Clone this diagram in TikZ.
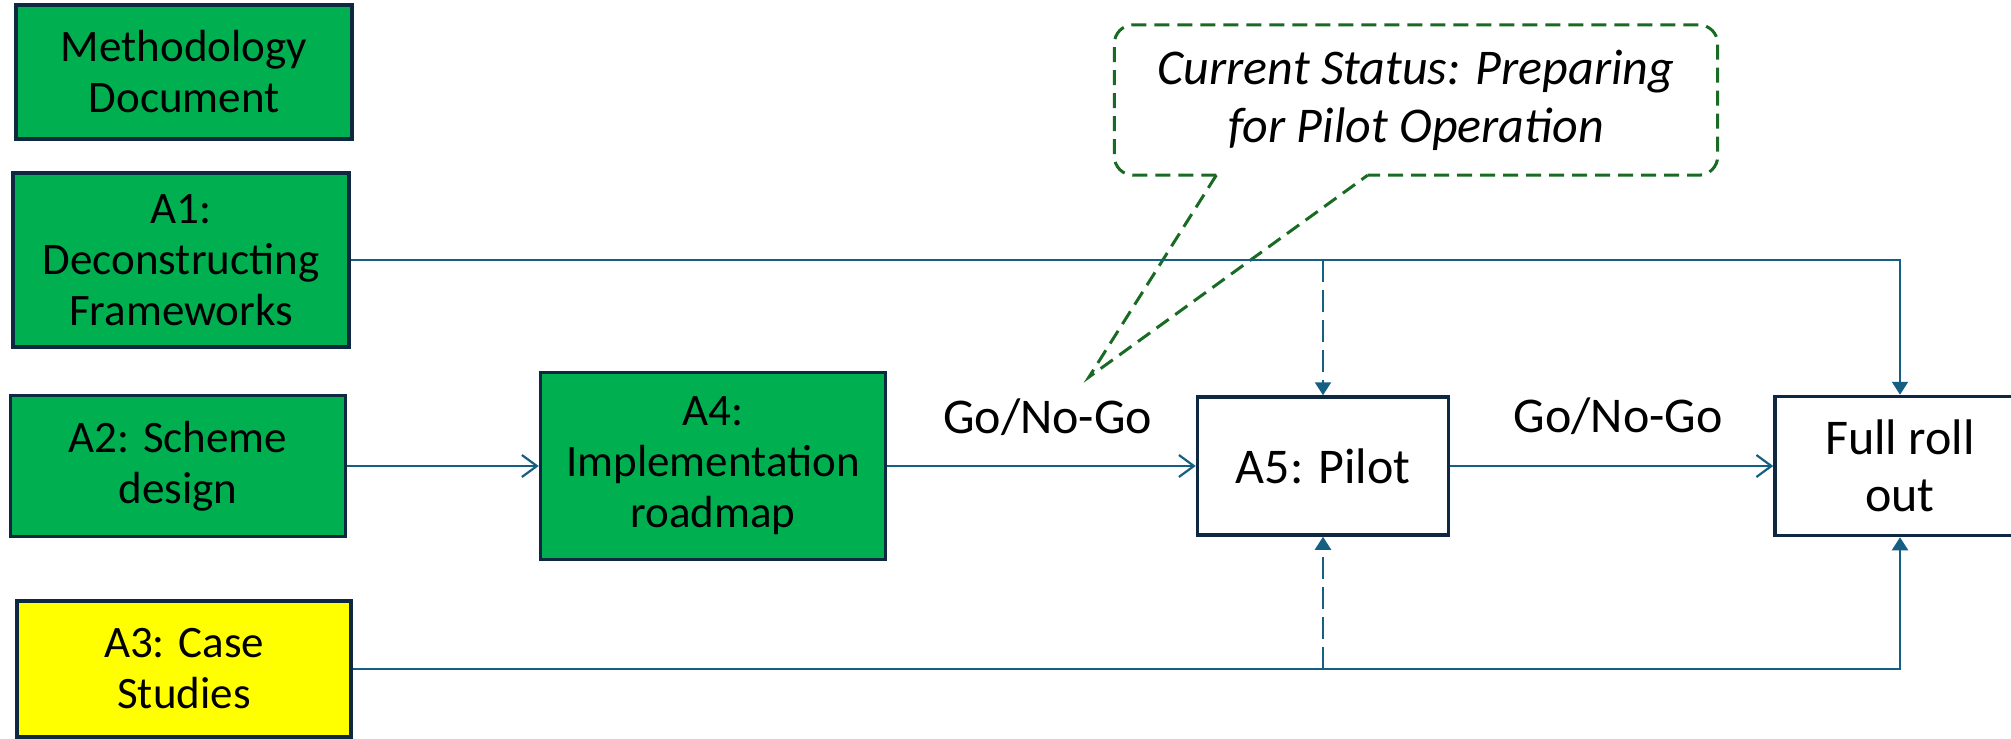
\documentclass[tikz,border=0pt]{standalone}
\usepackage{fontspec}
\setmainfont{Carlito}
\usetikzlibrary{arrows.meta}

\definecolor{boxgreen}{HTML}{00B050}
\definecolor{boxyellow}{HTML}{FFFF00}
\definecolor{edge}{HTML}{0E2841}
\definecolor{flowblue}{HTML}{156082}
\definecolor{notegreen}{HTML}{196B24}

\begin{document}
\begin{tikzpicture}[x=1pt,y=-1pt,
    stage/.style={draw=edge, line width=3.5pt, align=center, inner sep=0pt,
        font=\fontsize{45}{51}\selectfont},
    done/.style={stage, fill=boxgreen},
    todo/.style={stage, fill=white, font=\fontsize{50}{57}\selectfont},
    flow/.style={draw=flowblue, line width=2.2pt, -{Straight Barb[length=15pt,width=22pt]}},
    feed/.style={draw=flowblue, line width=2.2pt, -{Triangle[length=13pt,width=16pt]}},
    maybe/.style={feed, dash pattern=on 22pt off 8pt},
    note/.style={draw=notegreen, line width=3pt, dash pattern=on 15pt off 8pt},
    lbl/.style={font=\fontsize{50}{57}\selectfont}]

\useasboundingbox (0,0) rectangle (2011,739);

% work packages
\node[done, minimum width=336pt, minimum height=134pt] (method) at (184,72) {Methodology\\Document};
\node[done, minimum width=336pt, minimum height=174pt] (a1) at (181,260) {A1:\\Deconstructing\\Frameworks};
\node[done, minimum width=335pt, minimum height=141pt] (a2) at (178,466) {A2: Scheme\\design};
\node[stage, fill=boxyellow, minimum width=334pt, minimum height=136pt] (a3) at (184,669) {A3: Case\\Studies};
\node[done, minimum width=345pt, minimum height=187pt] (a4) at (713,466) {A4:\\Implementation\\roadmap};
\node[todo, minimum width=251pt, minimum height=138pt] (a5) at (1323,466) {A5: Pilot};
\node[todo, minimum width=250pt, minimum height=139pt] (full) at (1900,466) {Full roll\\out};

% status callout
\node[font=\itshape\fontsize{50}{58}\selectfont, align=center, minimum width=603pt, minimum height=150pt] (status) at (1416,100) {Current Status: Preparing\\for Pilot Operation};
\coordinate (tip) at (1089,377);
\draw[note, rounded corners=19pt] ([xshift=102pt]status.south west) -- (status.south west) -- (status.north west)
    -- (status.north east) -- (status.south east) -- ([xshift=-350pt]status.south east);
\draw[note] ([xshift=102pt]status.south west) -- (tip) -- ([xshift=-350pt]status.south east);

% main line
\draw[flow] (a2) -- (a4);
\draw[flow] (a4) -- node[lbl, pos=0.52, yshift=49pt] {Go/No-Go} (a5);
\draw[flow] (a5) -- node[lbl, pos=0.52, yshift=50pt] {Go/No-Go} (full);

% inputs from A1 and A3
\draw[feed] (a1.east) -| (full.north);
\draw[maybe] (a1.east -| a5.north) -- (a5.north);
\draw[feed] (a3.east) -| (full.south);
\draw[maybe] (a3.east -| a5.south) -- (a5.south);

\end{tikzpicture}
\end{document}
